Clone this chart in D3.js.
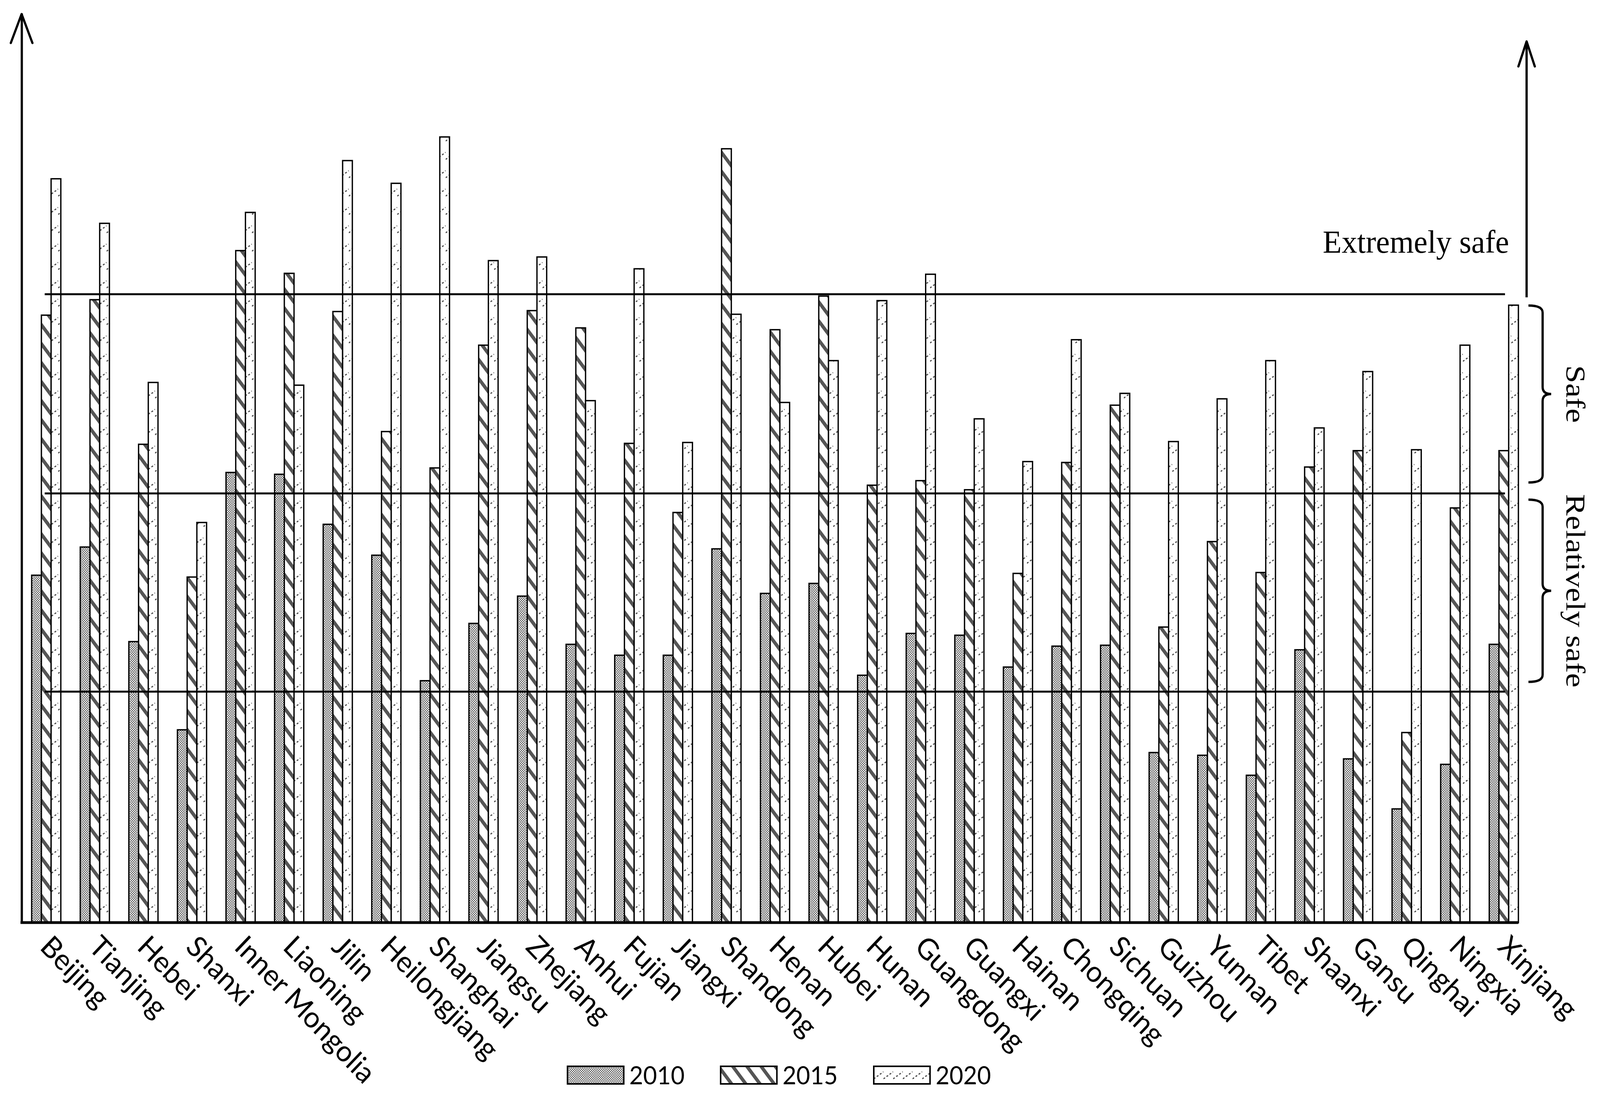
<!DOCTYPE html>
<html>
<head>
<meta charset="utf-8">
<script src="https://cdn.jsdelivr.net/npm/d3@7"></script>
<style>
    html, body { margin: 0; padding: 0; background: #fff; width: 100%; height: 100%; overflow: hidden; }
    svg { display: block; width: 100vw; height: 100vh; }
</style>
</head>
<body>
<div id="chart"></div>
<script>
// Data (relative safety index, 0-100 scale)
const provinces = ["Beijing", "Tianjing", "Hebei", "Shanxi", "Inner Mongolia", "Liaoning", "Jilin",
    "Heilongjiang", "Shanghai", "Jiangsu", "Zhejiang", "Anhui", "Fujian", "Jiangxi", "Shandong",
    "Henan", "Hubei", "Hunan", "Guangdong", "Guangxi", "Hainan", "Chongqing", "Sichuan", "Guizhou",
    "Yunnan", "Tibet", "Shaanxi", "Gansu", "Qinghai", "Ningxia", "Xinjiang"];
const v2010 = [38.2, 41.3, 30.9, 21.2, 49.5, 49.3, 43.8, 40.4, 26.6, 32.9, 35.9, 30.6, 29.4, 29.4, 41.1,
    36.2, 37.3, 27.2, 31.8, 31.6, 28.1, 30.4, 30.5, 18.7, 18.4, 16.2, 30.0, 18.0, 12.5, 17.4, 30.6];
const v2015 = [66.8, 68.5, 52.6, 38.0, 73.9, 71.4, 67.2, 54.0, 50.0, 63.5, 67.3, 65.4, 52.7, 45.1, 85.1,
    65.2, 68.9, 48.1, 48.6, 47.6, 38.4, 50.6, 56.9, 32.5, 41.9, 38.5, 50.1, 51.9, 20.9, 45.6, 51.9];
const v2020 = [81.8, 76.9, 59.4, 44.0, 78.1, 59.1, 83.8, 81.3, 86.4, 72.8, 73.2, 57.4, 71.9, 52.8, 66.9,
    57.2, 61.8, 68.4, 71.3, 55.4, 50.7, 64.1, 58.2, 52.9, 57.6, 61.8, 54.4, 60.6, 52.0, 63.5, 67.9];
const years = ["2010", "2015", "2020"];
const thresholds = [25.4, 47.2, 69.1];
const zoneLabels = ["Relatively safe", "Safe", "Extremely safe"];

const W = 4294, H = 2806;
const svg = d3.select("#chart").append("svg")
    .attr("viewBox", `0 0 ${W} ${H}`)
    .attr("preserveAspectRatio", "none");

//Fill patterns
const defs = svg.append("defs");

const p10 = defs.append("pattern").attr("id", "pat2010")
    .attr("patternUnits", "userSpaceOnUse").attr("width", 6).attr("height", 6);
p10.append("rect").attr("width", 6).attr("height", 6).attr("fill", "#fff");
p10.append("rect").attr("width", 3).attr("height", 3).attr("fill", "#5a5a5a");
p10.append("rect").attr("x", 3).attr("y", 3).attr("width", 3).attr("height", 3).attr("fill", "#5a5a5a");

const p15 = defs.append("pattern").attr("id", "pat2015")
    .attr("patternUnits", "userSpaceOnUse").attr("width", 30).attr("height", 30)
    .attr("patternTransform", "rotate(52)");
p15.append("rect").attr("width", 30).attr("height", 30).attr("fill", "#fff");
p15.append("rect").attr("width", 30).attr("height", 9).attr("fill", "#555");

const p20 = defs.append("pattern").attr("id", "pat2020")
    .attr("patternUnits", "userSpaceOnUse").attr("width", 26).attr("height", 47);
p20.append("rect").attr("width", 26).attr("height", 47).attr("fill", "#fff");
p20.append("path").attr("d", "M0,32 L26,14")
    .attr("stroke", "#444").attr("stroke-width", 3).attr("stroke-dasharray", "5 5");

//Scales
const x0 = d3.scaleBand().domain(provinces).range([85, 4075]).paddingInner(0.4).paddingOuter(0);
const x1 = d3.scaleBand().domain(years).range([0, x0.bandwidth()]);
const y = d3.scaleLinear().domain([0, 100]).range([2362, 34]);

const series = [v2010, v2015, v2020];
const rows = provinces.flatMap((p, i) => years.map((yr, j) => ({ p, yr, v: series[j][i] })));

//Bars
svg.append("g").attr("id", "bars")
    .selectAll("rect").data(rows).join("rect")
    .attr("x", d => x0(d.p) + x1(d.yr))
    .attr("y", d => y(d.v))
    .attr("width", x1.bandwidth())
    .attr("height", d => y(0) - y(d.v))
    .attr("fill", d => `url(#pat${d.yr})`)
    .attr("stroke", "#000")
    .attr("stroke-width", 3.5);

//Threshold lines
svg.append("g").attr("id", "levels")
    .selectAll("line").data(thresholds).join("line")
    .attr("x1", 120).attr("x2", 4039)
    .attr("y1", d => y(d)).attr("y2", d => y(d))
    .attr("stroke", "#000").attr("stroke-width", 5);

//Axes
const yAxis = svg.append("g").attr("transform", "translate(58,0)")
    .call(d3.axisLeft(y).ticks(0).tickSize(0).tickSizeOuter(0));
yAxis.select(".domain").attr("stroke-width", 6);

const arrow = (x, yTip, sx, sy) =>
    `M ${x - sx} ${yTip + sy} L ${x} ${yTip} L ${x + sx} ${yTip + sy}`;

svg.append("path").attr("d", arrow(58, 36, 29, 74))
    .attr("fill", "none").attr("stroke", "#000").attr("stroke-width", 6)
    .attr("stroke-linecap", "round").attr("stroke-linejoin", "round");

svg.append("line").attr("x1", 55).attr("x2", 4075).attr("y1", y(0)).attr("y2", y(0))
    .attr("stroke", "#000").attr("stroke-width", 7);

const xAxis = svg.append("g").attr("transform", `translate(0,${y(0)})`)
    .call(d3.axisBottom(x0).tickSize(0).tickSizeOuter(0));
xAxis.select(".domain").remove();
xAxis.selectAll("text")
    .attr("x", 0).attr("y", 0).attr("dy", 0)
    .attr("transform", "translate(-20,66) rotate(45)")
    .attr("text-anchor", "start")
    .attr("font-family", "Lato, 'Open Sans', sans-serif")
    .attr("font-size", 75)
    .attr("fill", "#000");

//Right arrow + zone annotations
const ax = 4097;
svg.append("line").attr("x1", ax).attr("x2", ax).attr("y1", y(thresholds[2]) + 8).attr("y2", 106)
    .attr("stroke", "#000").attr("stroke-width", 6);
svg.append("path").attr("d", arrow(ax, 106, 22, 64))
    .attr("fill", "none").attr("stroke", "#000").attr("stroke-width", 6)
    .attr("stroke-linecap", "round").attr("stroke-linejoin", "round");

svg.append("text").text(zoneLabels[2])
    .attr("x", 4050).attr("y", 647)
    .attr("text-anchor", "end")
    .attr("font-family", "'Liberation Serif', 'Times New Roman', serif")
    .attr("font-size", 83);

const brace = (top, bottom) => {
    const xl = 4102, xs = 4140, xt = 4163, mid = (top + bottom) / 2, r = 18;
    return `M ${xl} ${top} Q ${xs} ${top} ${xs} ${top + r} L ${xs} ${mid - r} Q ${xs} ${mid} ${xt} ${mid}` +
        ` Q ${xs} ${mid} ${xs} ${mid + r} L ${xs} ${bottom - r} Q ${xs} ${bottom} ${xl} ${bottom}`;
};

const bands = [
    { label: zoneLabels[1], top: y(thresholds[2]) + 29, bottom: y(thresholds[1]) - 28 },
    { label: zoneLabels[0], top: y(thresholds[1]) + 16, bottom: y(thresholds[0]) - 25 },
];

bands.forEach((b) => {
    svg.append("path").attr("d", brace(b.top, b.bottom))
        .attr("fill", "none").attr("stroke", "#000").attr("stroke-width", 6);
    svg.append("text").text(b.label)
        .attr("transform", `translate(4204,${(b.top + b.bottom) / 2}) rotate(90) scale(1,0.88)`)
        .attr("text-anchor", "middle")
        .attr("font-family", "'Liberation Serif', 'Times New Roman', serif")
        .attr("font-size", 83);
});

//Legend
const legend = svg.append("g").attr("id", "legend")
    .selectAll("g").data(years).join("g")
    .attr("transform", (d, i) => `translate(${1523 + i * 411},2730)`);
legend.append("rect")
    .attr("width", 151).attr("height", 45)
    .attr("fill", d => `url(#pat${d})`)
    .attr("stroke", "#000").attr("stroke-width", 4);
legend.append("text").text(d => d)
    .attr("x", 166).attr("y", 46)
    .attr("font-family", "Lato, 'Open Sans', sans-serif")
    .attr("font-size", 64);
</script>
</body>
</html>
